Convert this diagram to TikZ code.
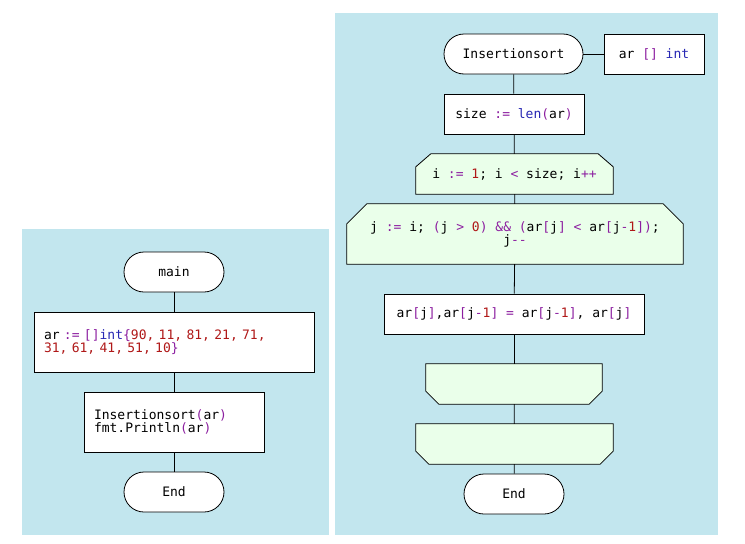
\documentclass[tikz,border=0pt]{standalone}
\usepackage{fontspec}
\setmonofont{DejaVu Sans Mono}
\usetikzlibrary{calc,backgrounds}
\definecolor{panelc}{RGB}{194,230,238}
\definecolor{loopc}{RGB}{234,255,234}
\definecolor{kwc}{RGB}{140,30,160}
\definecolor{numc}{RGB}{176,24,24}
\definecolor{tyc}{RGB}{40,40,180}
\newcommand\code{\ttfamily\fontsize{13}{13}\selectfont\spaceskip=\fontcharwd\font`\a\relax\xspaceskip=\spaceskip}
\newcommand\kw[1]{\textcolor{kwc}{#1}}
\newcommand\nm[1]{\textcolor{numc}{#1}}
\newcommand\ty[1]{\textcolor{tyc}{#1}}
\tikzset{
  base/.style={draw=black, line width=0.8pt, font=\code, minimum height=40pt, inner sep=0pt},
  term/.style={base, fill=white, rounded corners=20pt, minimum width=100pt},
  proc/.style={base, fill=white},
  loopbox/.style={font=\code, inner sep=0pt, minimum height=40pt, align=center},
  loopshape/.style={fill=loopc, draw=black, line width=0.8pt},
  conn/.style={draw=black, line width=0.8pt},
  panel/.style={fill=panelc}
}
\begin{document}
\begin{tikzpicture}[x=1pt,y=-1pt]
\useasboundingbox (0,0) rectangle (745,544);
% left panel
\node[term] (main) at (174,272) {main};
\node[proc, minimum height=60pt, text width=260pt, inner xsep=10pt, align=left] (arr) at (174,342)
  {ar \kw{:=} \kw{[]}\ty{int}\kw{\{}\nm{90, 11, 81, 21, 71,}\\\nm{31, 61, 41, 51, 10}\kw{\}}};
\node[proc, minimum height=60pt, text width=160pt, inner xsep=10pt, align=left] (call) at (174,422)
  {Insertionsort\kw{(}ar\kw{)}\\fmt.Println\kw{(}ar\kw{)}};
\node[term] (end1) at (174,492) {End};
\draw[conn] (main) -- (arr);
\draw[conn] (arr) -- (call);
\draw[conn] (call) -- (end1);
% right panel
\node[term, minimum width=139pt] (ins) at (513.5,54) {Insertionsort};
\node[proc, minimum width=100pt] (par) at (654,54) {ar \kw{[]} \ty{int}};
\node[proc, minimum width=140pt] (size) at (514,114) {size \kw{:=} \ty{len}\kw{(}ar\kw{)}};
\node[loopbox, minimum width=197pt] (li) at (514.5,174) {i \kw{:=} \nm{1}; i \kw{<} size; i\kw{++}};
\node[loopbox, minimum width=336pt, minimum height=60pt] (lj) at (515,234)
  {j \kw{:=} i; \kw{(}j \kw{>} \nm{0}\kw{)} \kw{\&\&} \kw{(}ar\kw{[}j\kw{]} \kw{<} ar\kw{[}j\kw{-}\nm{1}\kw{])};\\j\kw{-{}-}};
\node[proc, minimum width=260pt] (swap) at (514,314)
  {ar\kw{[}j\kw{]},ar\kw{[}j\kw{-}\nm{1}\kw{]} \kw{=} ar\kw{[}j\kw{-}\nm{1}\kw{]}, ar\kw{[}j\kw{]}};
\node[loopbox, minimum width=176pt] (ej) at (514,384) {};
\node[loopbox, minimum width=197pt] (ei) at (514.5,444) {};
\node[term] (end2) at (514,494) {End};
\draw[conn] (ins) -- (par);
\draw[conn] (ins) -- (size);
\draw[conn] (size) -- (li);
\draw[conn] (li) -- (lj);
\draw[conn] (lj) -- (swap);
\draw[conn] (swap) -- (ej);
\draw[conn] (ej) -- (ei);
\draw[conn] (ei) -- (end2);
\begin{scope}[on background layer]
  \fill[panel] (22,229) rectangle (329,535);
  \fill[panel] (335,13) rectangle (718,535);
  \draw[loopshape] (li.south west) -- ($(li.north west)+(0,13)$) -- ($(li.north west)+(15,0)$)
    -- ($(li.north east)+(-15,0)$) -- ($(li.north east)+(0,13)$) -- (li.south east) -- cycle;
  \draw[loopshape] (lj.south west) -- ($(lj.north west)+(0,20)$) -- ($(lj.north west)+(20,0)$)
    -- ($(lj.north east)+(-20,0)$) -- ($(lj.north east)+(0,20)$) -- (lj.south east) -- cycle;
  \draw[loopshape] (ej.north west) -- ($(ej.south west)+(0,-13)$) -- ($(ej.south west)+(13,0)$)
    -- ($(ej.south east)+(-13,0)$) -- ($(ej.south east)+(0,-13)$) -- (ej.north east) -- cycle;
  \draw[loopshape] (ei.north west) -- ($(ei.south west)+(0,-13)$) -- ($(ei.south west)+(13,0)$)
    -- ($(ei.south east)+(-13,0)$) -- ($(ei.south east)+(0,-13)$) -- (ei.north east) -- cycle;
\end{scope}
\end{tikzpicture}
\end{document}
